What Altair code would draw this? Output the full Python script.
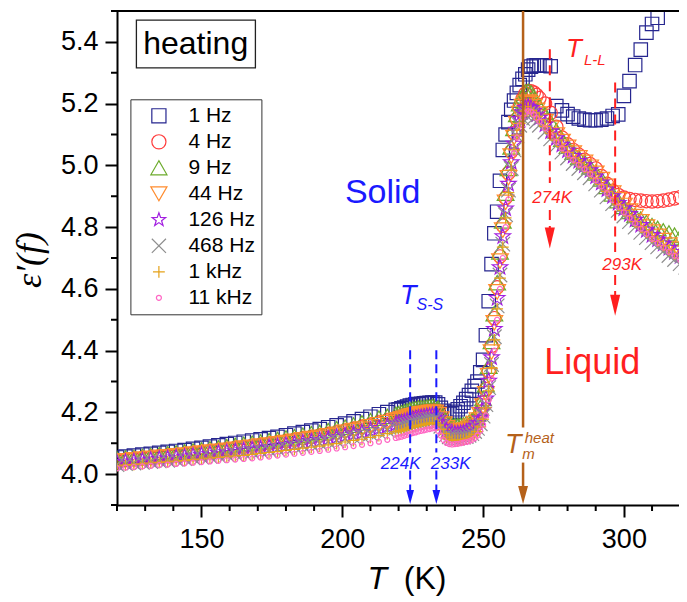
import altair as alt
import pandas as pd

SANS = "Liberation Sans"
SERIF = "Liberation Serif"

SERIES = ["1 Hz", "4 Hz", "9 Hz", "44 Hz", "126 Hz", "468 Hz", "1 kHz", "11 kHz"]
COLORS = ["#26268f", "#ff3d3d", "#6cab2c", "#ff8c2e", "#a21fe0", "#8e8e8e", "#e5a21a", "#ff66c4"]
STAR = "M0,-1L0.235,-0.324L0.951,-0.309L0.38,0.124L0.588,0.809L0,0.4L-0.588,0.809L-0.38,0.124L-0.951,-0.309L-0.235,-0.324Z"
XMARK = "M-1,-1L1,1M-1,1L1,-1"
PLUS = "M-1,0L1,0M0,-1L0,1"
SHAPES = ["square", "circle", "triangle-up", "triangle-down", STAR, XMARK, PLUS, "circle"]
SIZES = [180, 180, 280, 280, 260, 210, 140, 25]

# temperature grids (K)
T_A = list(range(120, 220, 3))
T_B = list(range(220, 271))
T_C = list(range(272, 323, 2))
T_C_1HZ = list(range(272, 313, 2))

# epsilon' values
HZ1 = [4.054,4.057,4.060,4.063,4.066,4.069,4.072,4.075,4.078,4.082,4.085,4.089,4.093,4.097,4.101,4.105,4.109,4.113,4.117,4.121,4.126,4.131,4.136,4.141,4.146,4.152,4.158,4.164,4.171,4.178,4.186,4.194,4.201,4.208,
       4.210,4.213,4.216,4.219,4.222,4.224,4.226,4.227,4.228,4.229,4.230,4.231,4.232,4.232,
       4.226,4.215,4.205,4.198,4.195,4.197,4.202,4.210,4.220,4.231,4.243,4.256,4.270,4.285,
       4.300,4.330,4.370,4.450,4.560,4.680,4.780,4.850,4.950,5.050,5.100,5.140,5.180,5.210,5.235,5.260,5.280,5.295,5.310,5.320,5.323,5.324,5.324,
       5.324,5.321,5.192,5.178,5.166,5.158,5.152,5.148,5.146,5.146,5.148,5.152,5.160,5.165,5.225,5.273,5.325,5.375,5.430,5.458,5.478]
HZ4 = [4.043,4.046,4.049,4.052,4.054,4.057,4.060,4.062,4.065,4.068,4.071,4.075,4.078,4.081,4.085,4.088,4.092,4.095,4.099,4.103,4.107,4.111,4.116,4.120,4.125,4.130,4.135,4.141,4.147,4.153,4.160,4.167,4.174,4.181,
       4.183,4.185,4.188,4.191,4.194,4.197,4.199,4.200,4.202,4.203,4.204,4.206,4.207,4.207,
       4.200,4.185,4.168,4.155,4.147,4.143,4.142,4.142,4.143,4.145,4.148,4.153,4.160,4.170,
       4.183,4.203,4.232,4.275,4.335,4.415,4.505,4.605,4.705,4.805,4.895,4.975,5.045,5.105,5.150,5.190,5.215,5.232,5.240,5.240,5.236,5.228,5.218,
       5.200,5.170,5.125,5.090,5.068,5.050,5.034,5.018,5.004,4.990,4.965,4.940,4.918,4.904,4.896,4.891,4.888,4.886,4.884,4.883,4.884,4.886,4.889,4.893,4.897,4.900]
HZ9 = [4.049,4.052,4.054,4.057,4.060,4.063,4.066,4.069,4.072,4.075,4.078,4.082,4.085,4.089,4.093,4.097,4.100,4.104,4.108,4.112,4.117,4.121,4.126,4.131,4.135,4.141,4.147,4.152,4.159,4.166,4.173,4.181,4.187,4.194,
       4.196,4.199,4.202,4.205,4.208,4.210,4.212,4.214,4.215,4.216,4.217,4.218,4.219,4.220,
       4.214,4.200,4.183,4.170,4.162,4.158,4.157,4.157,4.158,4.160,4.163,4.167,4.173,4.182,
       4.195,4.215,4.245,4.290,4.350,4.430,4.520,4.620,4.720,4.820,4.910,4.990,5.060,5.120,5.165,5.200,5.225,5.238,5.240,5.235,5.222,5.206,5.190,
       5.165,5.140,5.112,5.085,5.062,5.043,5.026,5.011,4.995,4.976,4.956,4.932,4.908,4.886,4.867,4.851,4.838,4.826,4.815,4.805,4.796,4.788,4.781,4.774,4.768,4.763]
HZ44 = [4.041,4.043,4.046,4.049,4.051,4.054,4.056,4.059,4.062,4.065,4.068,4.071,4.074,4.077,4.080,4.084,4.087,4.091,4.094,4.098,4.102,4.106,4.111,4.115,4.119,4.124,4.129,4.135,4.141,4.146,4.153,4.160,4.167,4.173,
        4.175,4.178,4.181,4.184,4.187,4.189,4.191,4.193,4.195,4.196,4.197,4.199,4.200,4.200,
        4.193,4.178,4.162,4.150,4.142,4.138,4.137,4.137,4.138,4.140,4.143,4.148,4.155,4.164,
        4.175,4.192,4.220,4.260,4.318,4.395,4.490,4.590,4.690,4.790,4.880,4.960,5.030,5.090,5.135,5.168,5.190,5.202,5.205,5.200,5.190,5.178,5.166,
        5.142,5.120,5.098,5.077,5.058,5.040,5.024,5.010,4.994,4.974,4.954,4.932,4.910,4.888,4.870,4.852,4.834,4.817,4.800,4.784,4.770,4.756,4.742,4.729,4.716,4.704]
HZ126 = [4.036,4.039,4.041,4.044,4.046,4.049,4.051,4.054,4.056,4.059,4.062,4.065,4.068,4.071,4.074,4.077,4.080,4.083,4.087,4.090,4.094,4.098,4.102,4.106,4.110,4.115,4.120,4.125,4.131,4.136,4.143,4.149,4.156,4.162,
         4.164,4.167,4.170,4.173,4.176,4.178,4.180,4.182,4.184,4.185,4.187,4.188,4.190,4.190,
         4.182,4.168,4.153,4.142,4.135,4.132,4.131,4.131,4.132,4.134,4.137,4.141,4.147,4.155,
         4.165,4.180,4.207,4.245,4.302,4.378,4.470,4.570,4.670,4.770,4.860,4.940,5.010,5.070,5.115,5.150,5.172,5.186,5.190,5.186,5.177,5.165,5.154,
         5.132,5.110,5.088,5.067,5.048,5.030,5.014,5.000,4.984,4.964,4.944,4.922,4.900,4.878,4.860,4.842,4.824,4.807,4.790,4.774,4.760,4.746,4.732,4.719,4.706,4.694]
HZ468 = [4.031,4.034,4.036,4.038,4.041,4.043,4.045,4.048,4.050,4.053,4.055,4.058,4.060,4.063,4.066,4.069,4.071,4.075,4.078,4.081,4.085,4.089,4.092,4.096,4.100,4.105,4.109,4.114,4.119,4.124,4.130,4.136,4.142,4.149,
         4.151,4.153,4.156,4.159,4.162,4.165,4.167,4.169,4.171,4.172,4.174,4.176,4.177,4.178,
         4.170,4.155,4.140,4.128,4.121,4.118,4.117,4.117,4.118,4.120,4.122,4.126,4.131,4.138,
         4.148,4.163,4.188,4.225,4.280,4.355,4.445,4.545,4.645,4.745,4.840,4.920,4.990,5.050,5.095,5.130,5.152,5.165,5.168,5.164,5.154,5.142,5.130,
         5.108,5.086,5.064,5.043,5.024,5.006,4.990,4.976,4.960,4.940,4.920,4.898,4.876,4.854,4.836,4.818,4.800,4.783,4.766,4.750,4.736,4.722,4.708,4.695,4.682,4.670]
KHZ1 = [4.027,4.029,4.031,4.033,4.036,4.038,4.040,4.042,4.044,4.047,4.049,4.052,4.054,4.056,4.059,4.061,4.064,4.067,4.070,4.073,4.077,4.080,4.084,4.087,4.091,4.095,4.099,4.104,4.109,4.113,4.119,4.125,4.131,4.137,
        4.139,4.141,4.144,4.147,4.150,4.153,4.155,4.158,4.159,4.161,4.163,4.165,4.166,4.167,
        4.159,4.145,4.131,4.120,4.113,4.110,4.109,4.109,4.110,4.112,4.114,4.117,4.122,4.129,
        4.138,4.153,4.178,4.215,4.270,4.345,4.435,4.535,4.635,4.735,4.830,4.912,4.985,5.050,5.098,5.136,5.160,5.176,5.181,5.178,5.170,5.159,5.148,
        5.126,5.104,5.082,5.061,5.042,5.024,5.008,4.994,4.978,4.958,4.938,4.916,4.894,4.872,4.854,4.836,4.818,4.801,4.784,4.768,4.754,4.740,4.726,4.713,4.700,4.688]
KHZ11 = [4.019,4.021,4.023,4.025,4.027,4.029,4.031,4.033,4.035,4.037,4.039,4.041,4.043,4.045,4.047,4.049,4.051,4.054,4.057,4.060,4.063,4.066,4.069,4.072,4.075,4.079,4.083,4.087,4.091,4.095,4.100,4.105,4.111,4.117,
         4.119,4.121,4.124,4.127,4.130,4.133,4.135,4.138,4.140,4.142,4.144,4.146,4.148,4.149,
         4.140,4.125,4.110,4.101,4.097,4.096,4.097,4.098,4.100,4.102,4.104,4.106,4.110,4.116,
         4.125,4.140,4.160,4.190,4.240,4.310,4.400,4.500,4.600,4.700,4.800,4.890,4.970,5.040,5.090,5.130,5.155,5.170,5.176,5.174,5.165,5.153,5.142,
         5.120,5.098,5.076,5.055,5.036,5.018,5.002,4.988,4.972,4.952,4.932,4.910,4.888,4.866,4.848,4.830,4.812,4.795,4.778,4.762,4.748,4.734,4.720,4.707,4.694,4.682]

X_MAJOR = [150, 200, 250, 300]
X_MINOR = [120, 130, 140, 160, 170, 180, 190, 210, 220, 230, 240, 260, 270, 280, 290, 310]
Y_MAJOR = [4.0, 4.2, 4.4, 4.6, 4.8, 5.0, 5.2, 5.4]
Y_MINOR = [3.9, 4.1, 4.3, 4.5, 4.7, 4.9, 5.1, 5.3, 5.5]

size_of = dict(zip(SERIES, SIZES))
rows = []
for name, vals in zip(SERIES, [HZ1, HZ4, HZ9, HZ44, HZ126, HZ468, KHZ1, KHZ11]):
    temps = T_A + T_B + (T_C_1HZ if name == "1 Hz" else T_C)
    assert len(temps) == len(vals), (name, len(temps), len(vals))
    for t, v in zip(temps, vals):
        rows.append({"T": t, "eps": v, "series": name, "sz": size_of[name]})
df = pd.DataFrame(rows)

PX_PER_K = 2.816
W = 562
xs = alt.Scale(domain=[120, 120 + W / PX_PER_K], nice=False, zero=False)
ys = alt.Scale(domain=[3.9, 5.5], nice=False, zero=False)

# identical axis definitions are given to every layer so that they merge into one axis
x_axis = alt.Axis(values=X_MAJOR, title=None, grid=False, tickSize=12,
                  domainColor="black", domainWidth=2, tickColor="black", tickWidth=2,
                  labelColor="black", labelFont=SANS, labelFontSize=27, labelPadding=9,
                  labelFlush=False, labelOverlap=False)
y_axis = alt.Axis(values=Y_MAJOR, title=None, grid=False, tickSize=12, format=".1f",
                  domainColor="black", domainWidth=2, tickColor="black", tickWidth=2,
                  labelColor="black", labelFont=SANS, labelFontSize=27, labelPadding=7,
                  labelFlush=False, labelOverlap=False)


def X(field):
    return alt.X(field, scale=xs, axis=x_axis)


def Y(field):
    return alt.Y(field, scale=ys, axis=y_axis)


sym_size = ("datum.value === '11 kHz' ? 25 : datum.value === '1 kHz' ? 140 : "
            "(datum.value === '9 Hz' || datum.value === '44 Hz') ? 260 : 200")
legend = alt.Legend(title=None, orient="none", legendX=13.4, legendY=88.3,
                    strokeColor="#333333", fillColor="white", padding=6,
                    symbolOffset=12, labelOffset=19, rowPadding=4,
                    labelFont=SANS, labelFontSize=21, labelColor="black",
                    symbolStrokeWidth=1.2, symbolSize={"expr": sym_size})

points = alt.Chart(df).mark_point(filled=False, strokeWidth=1.2, opacity=1, clip=True).encode(
    x=X("T:Q"),
    y=Y("eps:Q"),
    color=alt.Color("series:N", scale=alt.Scale(domain=SERIES, range=COLORS), legend=legend),
    shape=alt.Shape("series:N", scale=alt.Scale(domain=SERIES, range=SHAPES), legend=legend),
    size=alt.Size("sz:Q", scale=None, legend=None),
)

top_rule = alt.Chart(pd.DataFrame({"e": [5.5]})).mark_rule(color="black", strokeWidth=2).encode(
    y=Y("e:Q"))

x_minor = alt.Chart(pd.DataFrame({"T": X_MINOR, "e": [3.9] * len(X_MINOR)})).mark_rule(
    color="black", strokeWidth=2, y2Offset=6).encode(x=X("T:Q"), y=Y("e:Q"), y2="e:Q")
y_minor = alt.Chart(pd.DataFrame({"e": Y_MINOR, "T": [120] * len(Y_MINOR)})).mark_rule(
    color="black", strokeWidth=2, x2Offset=-6).encode(y=Y("e:Q"), x=X("T:Q"), x2="T:Q")

box = alt.Chart(pd.DataFrame({"t1": [126.89], "t2": [169.15], "e1": [5.316], "e2": [5.4706]})).mark_rect(
    fillOpacity=0, stroke="#222222", strokeWidth=1.3).encode(
    x=X("t1:Q"), x2="t2:Q", y=Y("e1:Q"), y2="e2:Q")


def txt(s, t, e, size, color, italic=False, align="center", baseline="alphabetic", font=SANS, angle=0):
    d = pd.DataFrame({"T": [t], "e": [e], "s": [s]})
    kw = dict(fontSize=size, color=color, align=align, baseline=baseline, font=font)
    if italic:
        kw["fontStyle"] = "italic"
    if angle:
        kw["angle"] = angle
    return alt.Chart(d).mark_text(**kw).encode(x=X("T:Q"), y=Y("e:Q"), text="s:N")


BLUE = "#1a1aff"
RED = "#ff1f1f"
BROWN = "#b5611a"


def seg(t, e1, e2, color, dash=None, width=2):
    d = pd.DataFrame({"T": [t], "e1": [e1], "e2": [e2]})
    kw = dict(color=color, strokeWidth=width)
    if dash:
        kw["strokeDash"] = dash
    return alt.Chart(d).mark_rule(**kw).encode(x=X("T:Q"), y=Y("e1:Q"), y2="e2:Q")


def head(t, e, color, size, path):
    d = pd.DataFrame({"T": [t], "e": [e]})
    return alt.Chart(d).mark_point(shape=path, filled=True, color=color, size=size, opacity=1).encode(
        x=X("T:Q"), y=Y("e:Q"))


HEAD_W = "M-0.55,-1L0.55,-1L0,1Z"
HEAD_N = "M-0.48,-1L0.48,-1L0,1Z"

layers = [
    points, top_rule, x_minor, y_minor, box,
    txt("heating", 147.95, 5.393, 32, "black", baseline="middle"),
    txt("Solid", 214.35, 4.8786, 34, BLUE),
    txt("Liquid", 288.75, 4.3232, 36, RED),
    txt("T", 223.4, 4.551, 27, BLUE, italic=True),
    txt("S-S", 226.4, 4.5322, 16, BLUE, italic=True, align="left"),
    txt("T", 282.3, 5.3495, 26, RED, italic=True),
    txt("L-L", 285.8, 5.325, 15, RED, italic=True, align="left"),
    txt("T", 260.7, 4.07, 27, BROWN, italic=True),
    txt("heat", 264.78, 4.1023, 15, BROWN, italic=True, align="left"),
    txt("m", 263.9, 4.0487, 15, BROWN, italic=True, align="left"),
    txt("224K", 220.75, 4.0179, 17, BLUE, italic=True),
    txt("233K", 238.5, 4.0179, 17, BLUE, italic=True),
    txt("274K", 274.55, 4.8786, 17, RED, italic=True),
    txt("293K", 299.4, 4.661, 17, RED, italic=True),
    txt("T", 212.4, 3.6282, 32, "black", italic=True),
    txt("(K)", 229.4, 3.6282, 32, "black"),
    txt("ε′(f)", 89.0, 4.6934, 36, "black", italic=True, baseline="middle", font=SERIF, angle=270),
    seg(264.2, 5.5, 4.151, BROWN, width=2.5),
    seg(264.2, 4.0374, 3.9617, BROWN, width=2.5),
    head(264.2, 3.9325, BROWN, 324, HEAD_W),
    seg(224.1, 4.401, 4.0699, BLUE, dash=[9, 5]),
    seg(224.1, 4.0114, 3.9464, BLUE, dash=[9, 5]),
    seg(233.4, 4.401, 4.0699, BLUE, dash=[9, 5]),
    seg(233.4, 4.0114, 3.9464, BLUE, dash=[9, 5]),
    head(224.1, 3.926, BLUE, 196, HEAD_W),
    head(233.4, 3.926, BLUE, 196, HEAD_W),
    seg(273.7, 5.3758, 4.9432, RED, dash=[10, 6]),
    seg(273.7, 4.8558, 4.7974, RED, dash=[10, 6]),
    seg(296.9, 5.2681, 4.7194, RED, dash=[10, 6]),
    seg(296.9, 4.6447, 4.5798, RED, dash=[10, 6]),
    head(273.7, 4.7649, RED, 441, HEAD_N),
    head(296.9, 4.5473, RED, 441, HEAD_N),
]

chart = alt.layer(*layers).properties(
    width=W, height=494,
    autosize=alt.AutoSizeParams(type="none"),
    padding={"left": 109, "top": 3, "right": 0, "bottom": 94},
).configure_view(stroke=None)

chart.save("out.html", embed_options={"renderer": "svg", "actions": False})
